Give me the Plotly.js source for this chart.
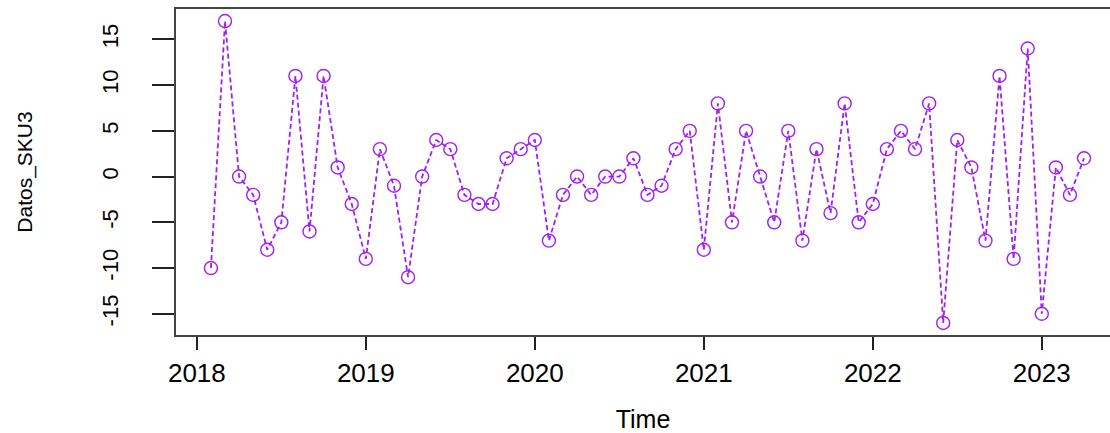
<!DOCTYPE html>
<html>
<head>
<meta charset="utf-8">
<script src="https://cdn.plot.ly/plotly-3.0.1.min.js"></script>
<style>
html,body{margin:0;padding:0;background:#fff;overflow:hidden;}
#chart{width:1110px;height:433px;}
</style>
</head>
<body>
<div id="chart"></div>
<script>
// Monthly series Datos_SKU3, starting Feb 2018 (frequency 12)
var startYear = 2018;
var startMonth = 2;
var frequency = 12;
var values = [
  -10, 17, 0, -2, -8, -5, 11, -6, 11, 1, -3,
  -9, 3, -1, -11, 0, 4, 3, -2, -3, -3, 2, 3,
  4, -7, -2, 0, -2, 0, 0, 2, -2, -1, 3, 5,
  -8, 8, -5, 5, 0, -5, 5, -7, 3, -4, 8, -5,
  -3, 3, 5, 3, 8, -16, 4, 1, -7, 11, -9, 14,
  -15, 1, -2, 2
];
var xTicks = [2018, 2019, 2020, 2021, 2022, 2023];
var xTickLabels = ["2018", "2019", "2020", "2021", "2022", "2023"];
var yTicks = [-15, -10, -5, 0, 5, 10, 15];
var yTickLabels = ["-15", "-10", "-5", "0", "5", "10", "15"];

// time index of the ts object
var times = values.map(function (v, i) {
  return startYear + (startMonth - 1 + i) / frequency;
});

// R-style 4% axis extension
function extend(arr) {
  var lo = Math.min.apply(null, arr), hi = Math.max.apply(null, arr);
  var pad = (hi - lo) * 0.04;
  return [lo - pad, hi + pad];
}

var xr = extend(times);
// the reference picture is cut off on the right, before the end of the plot box
var xRange = [xr[0], xr[0] + 5.527];

var purple = '#A020F0';
var trace = {
  x: times,
  y: values,
  type: 'scatter',
  mode: 'lines+markers',
  line: {color: purple, width: 1.8, dash: '5px,3px'},
  marker: {symbol: 'circle-open', size: 13, color: purple, line: {color: purple, width: 1.4}},
  hoverinfo: 'x+y',
  cliponaxis: false
};

var font = "'Liberation Sans', Arial, sans-serif";
var layout = {
  width: 1110,
  height: 433,
  margin: {l: 176, r: 0, t: 9, b: 98},
  paper_bgcolor: '#fff',
  plot_bgcolor: '#fff',
  showlegend: false,
  font: {family: font, color: '#000'},
  xaxis: {
    range: xRange,
    tickmode: 'array',
    tickvals: xTicks,
    ticktext: xTickLabels,
    ticks: 'outside',
    ticklen: 13,
    tickwidth: 1.5,
    tickcolor: '#222',
    ticklabelstandoff: 1,
    tickfont: {family: font, size: 26, color: '#000'},
    showgrid: false,
    zeroline: false,
    showline: true,
    mirror: true,
    linecolor: '#444',
    linewidth: 1.8,
    title: {text: 'Time', font: {family: font, size: 25, color: '#000'}, standoff: 25}
  },
  yaxis: {
    range: extend(values),
    tickmode: 'array',
    tickvals: yTicks,
    ticktext: yTickLabels,
    ticks: 'outside',
    ticklen: 22,
    tickwidth: 1.5,
    tickcolor: '#222',
    tickangle: -90,
    ticklabelstandoff: 25,
    tickfont: {family: font, size: 22, color: '#000'},
    showgrid: false,
    zeroline: false,
    showline: true,
    mirror: false,
    linecolor: '#444',
    linewidth: 1.8,
    title: {text: 'Datos_SKU3', font: {family: font, size: 21, color: '#000'}, standoff: 60}
  }
};

Plotly.newPlot('chart', [trace], layout, {displayModeBar: false});
</script>
</body>
</html>
